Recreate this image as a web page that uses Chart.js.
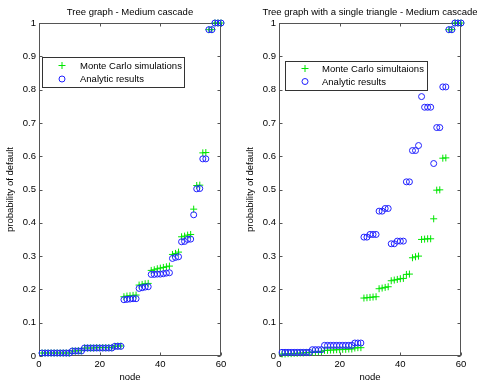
<!DOCTYPE html>
<html>
<head>
<meta charset="utf-8">
<title>Tree graph - Medium cascade</title>
<script src="https://cdn.jsdelivr.net/npm/chart.js@4.4.1/dist/chart.umd.min.js"></script>
<style>
  html, body { margin: 0; padding: 0; background: #fff; overflow: hidden; }
  #page { position: relative; width: 477px; height: 387px; overflow: hidden; background: #fff; }
  canvas { position: absolute; top: 0; }
  #treeChart { left: 0; }
  #triangleChart { left: 240px; }
</style>
</head>
<body>
<div id="page">
  <canvas id="treeChart" width="260" height="387"></canvas>
  <canvas id="triangleChart" width="260" height="387"></canvas>
</div>
<script>
// Node indices (sorted by default probability)
const nodes = [
  1, 2, 3, 4, 5, 6, 7, 8, 9, 10,
  11, 12, 13, 14, 15, 16, 17, 18, 19, 20,
  21, 22, 23, 24, 25, 26, 27, 28, 29, 30,
  31, 32, 33, 34, 35, 36, 37, 38, 39, 40,
  41, 42, 43, 44, 45, 46, 47, 48, 49, 50,
  51, 52, 53, 54, 55, 56, 57, 58, 59, 60
];

// Tree graph: Monte Carlo estimates
const treeMonteCarlo = [
  0.009, 0.009, 0.009, 0.009, 0.009, 0.009, 0.009, 0.009, 0.009, 0.009,
  0.015, 0.015, 0.016, 0.016,
  0.024, 0.024, 0.024, 0.024, 0.025, 0.025, 0.025, 0.025, 0.025, 0.025,
  0.029, 0.030, 0.030,
  0.178, 0.180, 0.181, 0.182, 0.183,
  0.213, 0.215, 0.217, 0.218,
  0.257, 0.259, 0.262, 0.264, 0.266, 0.268, 0.270,
  0.305, 0.308, 0.312,
  0.358, 0.360, 0.363, 0.365,
  0.441,
  0.512, 0.513,
  0.610, 0.611,
  0.980, 0.980,
  1.000, 1.000, 1.000
];

// Tree graph: analytic probabilities
const treeAnalytic = [
  0.009, 0.009, 0.009, 0.009, 0.009, 0.009, 0.009, 0.009, 0.009, 0.009,
  0.015, 0.015, 0.015, 0.015,
  0.024, 0.024, 0.024, 0.024, 0.024, 0.024, 0.024, 0.024, 0.024, 0.024,
  0.029, 0.029, 0.029,
  0.169, 0.170, 0.171, 0.172, 0.172,
  0.203, 0.205, 0.207, 0.208,
  0.245, 0.245, 0.246, 0.246, 0.247, 0.249, 0.250,
  0.293, 0.296, 0.298,
  0.343, 0.344, 0.350, 0.351,
  0.424,
  0.502, 0.503,
  0.592, 0.592,
  0.980, 0.980,
  1.000, 1.000, 1.000
];

// Tree graph with a single triangle: Monte Carlo estimates
const triangleMonteCarlo = [
  0.006, 0.006, 0.007, 0.007, 0.008, 0.008, 0.009, 0.009, 0.010, 0.010,
  0.012, 0.012, 0.013, 0.013,
  0.017, 0.017, 0.018, 0.018, 0.019, 0.019, 0.020, 0.020, 0.021, 0.021,
  0.024, 0.025, 0.025,
  0.174, 0.175, 0.176, 0.177, 0.178,
  0.202, 0.204, 0.206, 0.208,
  0.226, 0.228, 0.230, 0.232, 0.233,
  0.245, 0.246,
  0.295, 0.298, 0.300,
  0.350, 0.351, 0.352, 0.352,
  0.412,
  0.498, 0.499,
  0.594, 0.595,
  0.980, 0.980,
  1.000, 1.000, 1.000
];

// Tree graph with a single triangle: analytic probabilities
const triangleAnalytic = [
  0.011, 0.011, 0.011, 0.011, 0.011, 0.011, 0.011, 0.011, 0.011, 0.011,
  0.019, 0.019, 0.019, 0.019,
  0.032, 0.032, 0.032, 0.032, 0.032, 0.032, 0.032, 0.032, 0.032, 0.032,
  0.039, 0.039, 0.039,
  0.357, 0.357,
  0.365, 0.365, 0.365,
  0.435, 0.435,
  0.443, 0.443,
  0.337, 0.337,
  0.345, 0.345, 0.345,
  0.523, 0.523,
  0.617, 0.617,
  0.632,
  0.779,
  0.747, 0.747, 0.747,
  0.578,
  0.686, 0.686,
  0.808, 0.808,
  0.980, 0.980,
  1.000, 1.000, 1.000
];

// Axis ticks
const xTicks = [0, 20, 40, 60];
const xTickLabels = ['0', '20', '40', '60'];
const yTicks = [0, 0.1, 0.2, 0.3, 0.4, 0.5, 0.6, 0.7, 0.8, 0.9, 1];
const yTickLabels = ['0', '0.1', '0.2', '0.3', '0.4', '0.5', '0.6', '0.7', '0.8', '0.9', '1'];

const FONT = { family: '"Liberation Sans", Arial, Helvetica, sans-serif', size: 9.5 };
Chart.defaults.font.family = FONT.family;
Chart.defaults.font.size = FONT.size;
Chart.defaults.color = '#000';

// Box around the axes with inward tick marks, plus a boxed legend inside the axes
const framePlugin = {
  id: 'axesFrame',
  beforeDatasetsDraw(chart) {
    const { ctx, chartArea: a, scales: { x, y } } = chart;
    const L = Math.round(a.left) + 0.5, R = Math.round(a.right) - 0.5;
    const T = Math.round(a.top) + 0.5, B = Math.round(a.bottom) - 0.5;
    const len = 3;
    ctx.save();
    ctx.strokeStyle = '#555';
    ctx.lineWidth = 1;
    ctx.strokeRect(L, T, R - L, B - T);
    ctx.beginPath();
    xTicks.forEach(v => {
      const px = Math.round(x.getPixelForValue(v)) + 0.5;
      ctx.moveTo(px, B); ctx.lineTo(px, B - len);
      ctx.moveTo(px, T); ctx.lineTo(px, T + len);
    });
    yTicks.forEach(v => {
      const py = Math.round(y.getPixelForValue(v)) + 0.5;
      ctx.moveTo(L, py); ctx.lineTo(L + len, py);
      ctx.moveTo(R, py); ctx.lineTo(R - len, py);
    });
    ctx.stroke();
    ctx.restore();
  },
  afterDraw(chart, args, opts) {
    const lg = opts.legend;
    if (!lg) return;
    const { ctx, chartArea: a } = chart;
    const bx = Math.round(a.left + lg.x) + 0.5, by = Math.round(a.top + lg.y) + 0.5;
    ctx.save();
    ctx.fillStyle = '#fff';
    ctx.fillRect(bx, by, lg.w, lg.h);
    ctx.strokeStyle = '#333';
    ctx.lineWidth = 1;
    ctx.strokeRect(bx, by, lg.w, lg.h);
    chart.data.datasets.forEach((ds, i) => {
      const ry = a.top + lg.rows[i];
      ctx.strokeStyle = ds.borderColor;
      ctx.fillStyle = ds.backgroundColor;
      ctx.lineWidth = ds.pointBorderWidth;
      Chart.helpers.drawPoint(ctx, {
        pointStyle: ds.pointStyle,
        radius: ds.pointRadius,
        borderWidth: ds.pointBorderWidth,
        rotation: 0
      }, a.left + lg.markerX, ry);
      ctx.font = `${FONT.size}px ${FONT.family}`;
      ctx.fillStyle = '#000';
      ctx.textBaseline = 'middle';
      ctx.textAlign = 'left';
      ctx.fillText(ds.label, a.left + lg.textX, ry + 0.5);
    });
    ctx.restore();
  }
};

function points(values) {
  return nodes.map((n, i) => ({ x: n, y: values[i] }));
}

function makeChart(canvasId, title, mcLabel, mcValues, anValues, legend) {
  return new Chart(document.getElementById(canvasId), {
    type: 'scatter',
    data: {
      datasets: [
        {
          label: mcLabel,
          data: points(mcValues),
          pointStyle: 'cross',
          pointRadius: 3.5,
          pointBorderWidth: 1,
          borderColor: '#00e600',
          backgroundColor: '#00e600',
          clip: false,
          order: 1
        },
        {
          label: 'Analytic results',
          data: points(anValues),
          pointStyle: 'circle',
          pointRadius: 3,
          pointBorderWidth: 1,
          borderColor: '#2020ff',
          backgroundColor: 'rgba(0,0,0,0)',
          clip: false,
          order: 0
        }
      ]
    },
    options: {
      responsive: false,
      animation: false,
      events: [],
      layout: { padding: 0 },
      plugins: {
        legend: { display: false },
        tooltip: { enabled: false },
        title: {
          display: true,
          text: title,
          color: '#000',
          font: { ...FONT, weight: 'normal' },
          padding: { top: 7, bottom: 4.6 }
        },
        axesFrame: { legend }
      },
      scales: {
        x: {
          type: 'linear',
          min: 0,
          max: 60,
          afterBuildTicks: s => { s.ticks = xTicks.map(v => ({ value: v })); },
          afterFit: s => { s.height = 31; },
          grid: { display: false, drawTicks: false },
          border: { display: false },
          ticks: {
            padding: 3,
            font: FONT,
            color: '#000',
            maxRotation: 0,
            callback: (v, i) => xTickLabels[i]
          },
          title: {
            display: true,
            text: 'node',
            font: FONT,
            color: '#000',
            padding: { top: 0, bottom: 4 }
          }
        },
        y: {
          type: 'linear',
          min: 0,
          max: 1,
          afterBuildTicks: s => { s.ticks = yTicks.map(v => ({ value: v })); },
          afterFit: s => { s.width = 39; },
          grid: { display: false, drawTicks: false },
          border: { display: false },
          ticks: {
            padding: 3,
            font: FONT,
            color: '#000',
            callback: (v, i) => yTickLabels[i]
          },
          title: {
            display: true,
            text: 'probability of default',
            font: FONT,
            color: '#000',
            padding: { top: 5, bottom: 0 }
          }
        },
        // empty right-hand margin so the title centres over the plot box
        yMargin: {
          type: 'linear',
          position: 'right',
          min: 0,
          max: 1,
          afterFit: s => { s.width = 39; },
          grid: { display: false, drawTicks: false },
          border: { display: false },
          ticks: { display: false }
        }
      }
    },
    plugins: [framePlugin]
  });
}

makeChart('treeChart', 'Tree graph - Medium cascade', 'Monte Carlo simulations',
  treeMonteCarlo, treeAnalytic,
  { x: 3, y: 34, w: 142, h: 30, markerX: 23, textX: 41, rows: [42.5, 56] });

makeChart('triangleChart', 'Tree graph with a single triangle - Medium cascade', 'Monte Carlo simultaions',
  triangleMonteCarlo, triangleAnalytic,
  { x: 6, y: 38, w: 142, h: 29, markerX: 26, textX: 43, rows: [45.5, 58.5] });
</script>
</body>
</html>
